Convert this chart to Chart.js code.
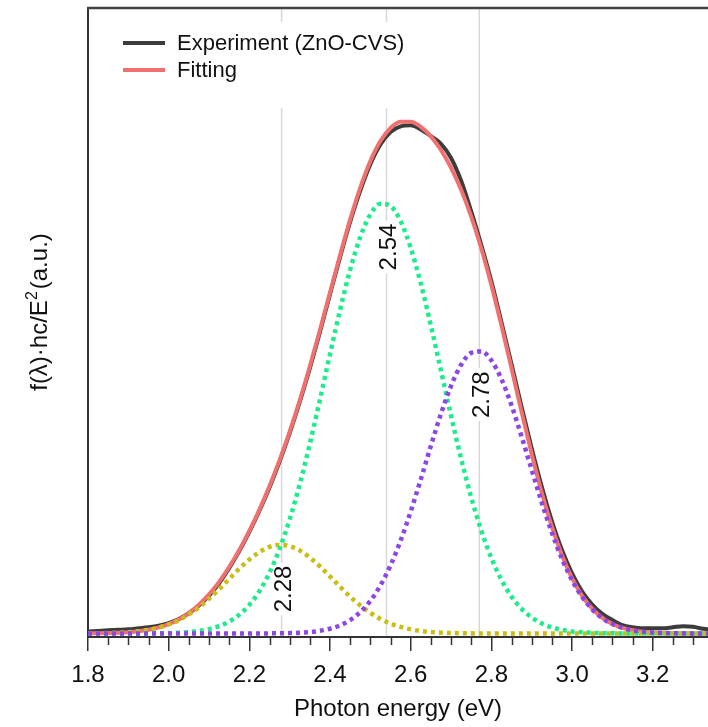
<!DOCTYPE html>
<html><head><meta charset="utf-8">
<script src="https://cdn.jsdelivr.net/npm/chart.js@4/dist/chart.umd.min.js"></script>
<style>html,body{margin:0;padding:0;background:#fff;}#wrap{width:708px;height:727px;position:relative;}</style>
</head><body><div id="wrap"><canvas id="c" width="708" height="727"></canvas></div>
<script>
// Photon energy (eV)
const energy = [1.800,1.825,1.850,1.875,1.900,1.925,1.950,1.975,2.000,2.025,2.050,2.075,2.100,2.125,2.150,2.175,2.200,2.225,2.250,2.275,2.300,2.325,2.350,2.375,2.400,2.425,2.450,2.475,2.500,2.525,2.550,2.575,2.600,2.625,2.650,2.675,2.700,2.725,2.750,2.775,2.800,2.825,2.850,2.875,2.900,2.925,2.950,2.975,3.000,3.025,3.050,3.075,3.100,3.125,3.150,3.175,3.200,3.225,3.250,3.275,3.300,3.325,3.350];
// Experiment (ZnO-CVS)
const experiment = [0.004,0.005,0.006,0.007,0.008,0.010,0.012,0.015,0.020,0.028,0.039,0.054,0.073,
0.097,0.126,0.159,0.196,0.237,0.282,0.332,0.387,0.447,0.512,0.582,0.655,0.727,
0.795,0.855,0.906,0.944,0.968,0.979,0.981,0.973,0.960,0.945,0.918,0.874,0.815,
0.750,0.680,0.601,0.520,0.437,0.357,0.283,0.217,0.161,0.116,0.081,0.056,0.038,
0.026,0.016,0.012,0.010,0.010,0.010,0.012,0.014,0.013,0.009,0.007];
// Fitting
const fitting = [0.0002,0.0004,0.0008,0.0014,0.0025,0.0044,0.0073,0.0117,0.0182,0.0272,0.0395,0.0554,0.0755,
0.0997,0.1283,0.1611,0.1980,0.2392,0.2846,0.3346,0.3897,0.4501,0.5160,0.5859,0.6585,0.7307,
0.7994,0.8608,0.9119,0.9506,0.9759,0.9879,0.9881,0.9781,0.9597,0.9333,0.8991,0.8566,0.8047,
0.7432,0.6725,0.5943,0.5114,0.4276,0.3465,0.2718,0.2061,0.1510,0.1067,0.0727,0.0478,0.0302,
0.0184,0.0108,0.0061,0.0033,0.0017,0.0009,0.0004,0.0002,0.0001,0.0000,0.0000];
// Component peak 2.28 eV
const peak228 = [0.0002,0.0004,0.0008,0.0014,0.0025,0.0043,0.0071,0.0113,0.0174,0.0257,0.0367,0.0505,0.0670,
0.0855,0.1053,0.1249,0.1428,0.1574,0.1671,0.1710,0.1686,0.1602,0.1467,0.1294,0.1101,0.0902,
0.0713,0.0542,0.0398,0.0281,0.0192,0.0126,0.0080,0.0049,0.0029,0.0016,0.0009,0.0005,0.0002,
0.0001,0,0,0,0,0,0,0,0,0,0,0,0,
0,0,0,0,0,0,0,0,0,0,0];
// Component peak 2.54 eV
const peak254 = [0,0,0,0,0,0.0001,0.0002,0.0004,0.0008,0.0015,0.0028,0.0049,0.0085,
0.0142,0.0230,0.0362,0.0552,0.0817,0.1173,0.1633,0.2204,0.2885,0.3665,0.4514,0.5392,0.6248,
0.7022,0.7654,0.8091,0.8297,0.8252,0.7959,0.7446,0.6756,0.5946,0.5076,0.4202,0.3374,0.2628,
0.1985,0.1454,0.1033,0.0712,0.0476,0.0309,0.0194,0.0118,0.0070,0.0040,0.0022,0.0012,0.0006,
0.0003,0.0001,0,0,0,0,0,0,0,0,0];
// Component peak 2.78 eV
const peak278 = [0,0,0,0,0,0,0,0,0,0,0,0,0,
0,0,0,0,0.0001,0.0002,0.0003,0.0007,0.0014,0.0028,0.0051,0.0092,0.0157,
0.0259,0.0412,0.0630,0.0928,0.1315,0.1794,0.2355,0.2976,0.3622,0.4241,0.4780,0.5187,0.5417,
0.5446,0.5271,0.4910,0.4402,0.3800,0.3156,0.2524,0.1943,0.1440,0.1027,0.0705,0.0466,0.0296,
0.0181,0.0107,0.0061,0.0033,0.0017,0.0009,0.0004,0.0002,0.0001,0,0];
// Peak markers
const peakCenters = [2.28, 2.54, 2.77];
const peakHeights = [0.171, 0.831, 0.546];
const peakLabels = ['2.28', '2.54', '2.78'];
const xTicks = [1.8, 2.0, 2.2, 2.4, 2.6, 2.8, 3.0, 3.2];

const FONT = '"Liberation Sans", Arial, Helvetica, sans-serif';
const toXY = ys => ys.map((v, i) => ({x: energy[i], y: v}));

const decor = {
  id: 'decor',
  beforeDatasetsDraw(chart) {
    const {ctx, chartArea: a, scales: {x, y}} = chart;
    ctx.save();
    ctx.strokeStyle = '#d8d8d8'; ctx.lineWidth = 1.5;
    peakCenters.forEach(v => {
      const px = x.getPixelForValue(v);
      ctx.beginPath(); ctx.moveTo(px, a.top + 1); ctx.lineTo(px, a.bottom - 1); ctx.stroke();
    });
    // legend background
    ctx.fillStyle = '#fff';
    ctx.fillRect(100, 22, 330, 86);
    // peak labels
    ctx.font = '24px ' + FONT;
    peakCenters.forEach((v, i) => {
      const px = x.getPixelForValue(v) + 2;
      const py = y.getPixelForValue(peakHeights[i]) + 44;
      ctx.save();
      ctx.translate(px, py); ctx.rotate(-Math.PI / 2);
      const w = ctx.measureText(peakLabels[i]).width;
      ctx.fillStyle = '#fff'; ctx.fillRect(-w / 2 - 3, -11, w + 6, 22);
      ctx.fillStyle = '#111'; ctx.textAlign = 'center'; ctx.textBaseline = 'middle';
      ctx.fillText(peakLabels[i], 0, 1);
      ctx.restore();
    });
    ctx.restore();
  },
  afterDraw(chart) {
    const {ctx, chartArea: a, scales: {x}} = chart;
    ctx.save();
    // top frame line
    ctx.strokeStyle = '#454545'; ctx.lineWidth = 2.5;
    ctx.beginPath(); ctx.moveTo(a.left - 1, a.top); ctx.lineTo(chart.width, a.top); ctx.stroke();
    // minor ticks
    ctx.strokeStyle = '#333'; ctx.lineWidth = 1.5;
    for (let k = 0; k < 40; k++) {
      if (k % 4 === 0) continue;
      const v = 1.8 + k * 0.05;
      if (v > x.max) break;
      const px = Math.round(x.getPixelForValue(v)) + 0.5;
      ctx.beginPath(); ctx.moveTo(px, a.bottom); ctx.lineTo(px, a.bottom + 8); ctx.stroke();
    }
    // legend
    ctx.lineWidth = 4; ctx.lineCap = 'butt';
    ctx.strokeStyle = '#3c3c3c';
    ctx.beginPath(); ctx.moveTo(123, 43); ctx.lineTo(165, 43); ctx.stroke();
    ctx.strokeStyle = '#f07070';
    ctx.beginPath(); ctx.moveTo(123, 70); ctx.lineTo(165, 70); ctx.stroke();
    ctx.fillStyle = '#111'; ctx.font = '22px ' + FONT; ctx.textBaseline = 'middle'; ctx.textAlign = 'left';
    ctx.fillText('Experiment (ZnO-CVS)', 177, 44);
    ctx.fillText('Fitting', 177, 71);
    // y-axis title
    ctx.translate(47, 312); ctx.rotate(-Math.PI / 2);
    ctx.textBaseline = 'alphabetic';
    const main = 'f(λ)·hc/E', sup = '2', tail = '(a.u.)';
    ctx.font = '24px ' + FONT; const w1 = ctx.measureText(main).width; const w3 = ctx.measureText(tail).width;
    ctx.font = '16px ' + FONT; const w2 = ctx.measureText(sup).width;
    let sx = -(w1 + w2 + 2 + w3) / 2;
    ctx.font = '24px ' + FONT; ctx.fillText(main, sx, 0); sx += w1;
    ctx.font = '16px ' + FONT; ctx.fillText(sup, sx, -10); sx += w2 + 2;
    ctx.font = '24px ' + FONT; ctx.fillText(tail, sx, 0);
    ctx.restore();
  }
};

const dotted = (label, data, color) => ({
  label, data: toXY(data), borderColor: color, borderWidth: 4.5,
  borderDash: [4, 4], borderCapStyle: 'butt', pointRadius: 0, fill: false
});

new Chart(document.getElementById('c'), {
  type: 'line',
  data: {
    datasets: [
      dotted('2.78', peak278, 'rgb(140,70,230)'),
      dotted('2.54', peak254, 'rgb(30,235,140)'),
      dotted('2.28', peak228, 'rgb(200,190,20)'),
      {label: 'Fitting', data: toXY(fitting), borderColor: '#f07070', borderWidth: 4, pointRadius: 0, fill: false},
      {label: 'Experiment (ZnO-CVS)', data: toXY(experiment), borderColor: '#3c3c3c', borderWidth: 4, pointRadius: 0, fill: false}
    ]
  },
  options: {
    responsive: false, animation: false, devicePixelRatio: 1,
    layout: {padding: {top: 8, left: 0, right: 0, bottom: 0}},
    plugins: {legend: {display: false}, tooltip: {enabled: false}},
    elements: {point: {radius: 0}, line: {cubicInterpolationMode: 'monotone'}},
    scales: {
      x: {
        type: 'linear', min: 1.8, max: 3.337,
        afterFit(s) { s.height = 90; },
        afterBuildTicks(s) { s.ticks = xTicks.map(v => ({value: v})); },
        border: {display: true, color: '#333', width: 2},
        grid: {drawOnChartArea: false, drawTicks: true, tickLength: 14, color: '#333', lineWidth: 1.5},
        ticks: {autoSkip: false, maxRotation: 0, padding: 10, color: '#111',
                font: {family: FONT, size: 24}, callback: v => Number(v).toFixed(1)},
        title: {display: true, text: 'Photon energy (eV)', color: '#111',
                font: {family: FONT, size: 24}, padding: {top: 0, bottom: 3}}
      },
      y: {
        min: -0.0068, max: 1.2075,
        afterFit(s) { s.width = 88; },
        border: {display: true, color: '#333', width: 2},
        grid: {display: false}, ticks: {display: false}
      }
    }
  },
  plugins: [decor]
});
</script>
</body></html>
